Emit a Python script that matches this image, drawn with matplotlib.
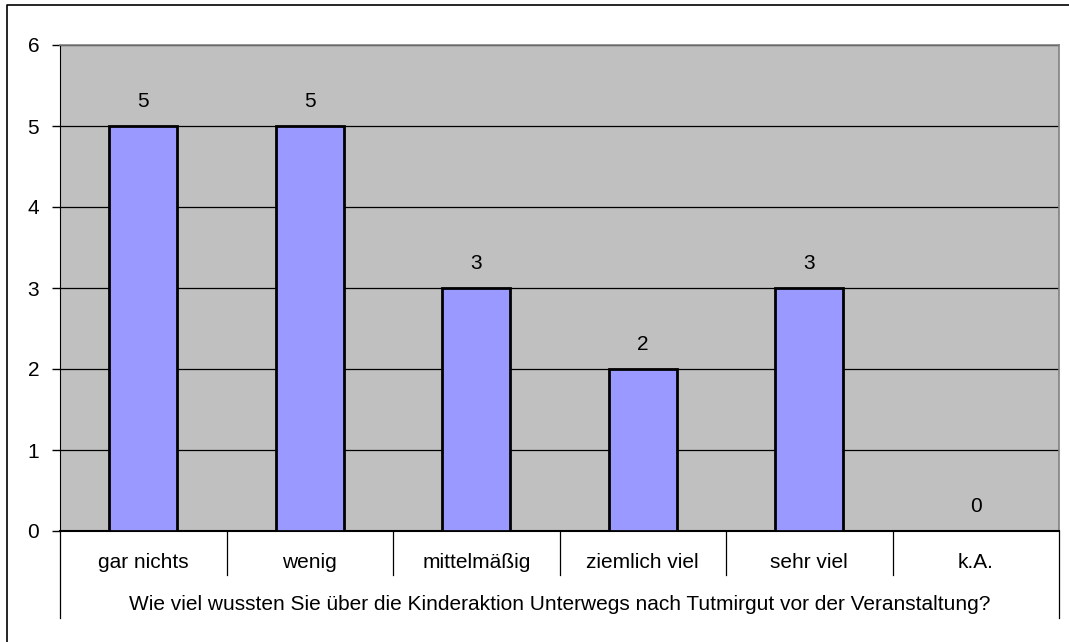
import matplotlib
matplotlib.use("Agg")
import matplotlib.pyplot as plt
from matplotlib.lines import Line2D
import matplotlib.transforms as mtransforms

categories = ["gar nichts", "wenig", "mittelmäßig", "ziemlich viel", "sehr viel", "k.A."]
values = [5, 5, 3, 2, 3, 0]
yticks = [0, 1, 2, 3, 4, 5, 6]
group_label = "Wie viel wussten Sie über die Kinderaktion Unterwegs nach Tutmirgut vor der Veranstaltung?"

plt.rcParams['font.family'] = ['Liberation Sans', 'DejaVu Sans']
FS = 15

W, H = 1069, 642
fig = plt.figure(figsize=(W / 100, H / 100), dpi=100)
fig.patch.set_facecolor("white")

# outer chart border (left and top visible)
fig.add_artist(Line2D([7 / W, 7 / W, 1.0], [0, 1 - 5 / H, 1 - 5 / H],
                      transform=fig.transFigure, color="black", lw=1.2))

left, right, top, bottom = 60, 1059, 45, 531
ax = fig.add_axes([left / W, 1 - bottom / H, (right - left) / W, (bottom - top) / H])
ax.set_facecolor("#C0C0C0")

x = list(range(len(categories)))
ax.bar(x, values, width=0.41, color="#9999FF", edgecolor="black", linewidth=2, zorder=3)
for xi, v in zip(x, values):
    ax.text(xi, v + 0.18, str(v), ha="center", va="bottom", fontsize=FS, color="black")

ax.set_xlim(-0.5, len(categories) - 0.5)
ax.set_ylim(0, 6)
ax.set_yticks(yticks)
ax.set_yticklabels([str(t) for t in yticks], fontsize=FS)
ax.yaxis.grid(True, color="black", linewidth=0.9)
ax.set_axisbelow(True)
ax.tick_params(axis="y", length=6, width=1, color="black", pad=9)
ax.set_xticks([])

for side in ["top", "right"]:
    ax.spines[side].set_color("#808080")
    ax.spines[side].set_linewidth(1.2)
ax.spines["left"].set_color("black")
ax.spines["bottom"].set_color("black")
ax.spines["bottom"].set_linewidth(1.5)

# category axis table
trans = mtransforms.blended_transform_factory(ax.transData, ax.transAxes)
h = bottom - top
y_sep = -(575 - bottom) / h
y_out = -(618 - bottom) / h
for i in range(1, len(categories)):
    ax.add_line(Line2D([i - 0.5, i - 0.5], [0, y_sep], transform=trans,
                       color="black", lw=0.9, clip_on=False))
for xe in [-0.5, len(categories) - 0.5]:
    ax.add_line(Line2D([xe, xe], [0, y_out], transform=trans,
                       color="black", lw=0.9, clip_on=False))
for xi, c in zip(x, categories):
    ax.text(xi, -(562 - bottom) / h, c, transform=trans, ha="center", va="center",
            fontsize=FS, color="black")
ax.text((len(categories) - 1) / 2, -(604 - bottom) / h, group_label, transform=trans,
        ha="center", va="center", fontsize=FS, color="black")

fig.savefig("out.png", dpi=100)
